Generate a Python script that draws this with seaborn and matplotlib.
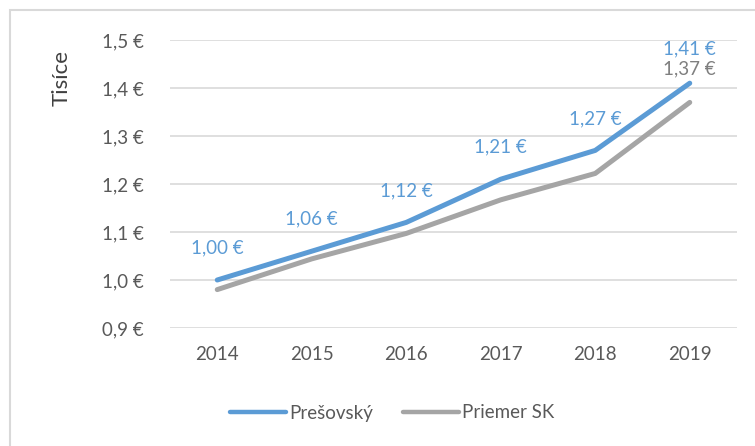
import matplotlib
matplotlib.use("Agg")
import matplotlib.pyplot as plt
import seaborn as sns
import pandas as pd
from matplotlib.patches import Rectangle
from matplotlib.lines import Line2D

years = ["2014", "2015", "2016", "2017", "2018", "2019"]
presovsky = [1.00, 1.06, 1.12, 1.21, 1.27, 1.41]
priemer_sk = [0.98, 1.044, 1.097, 1.167, 1.222, 1.37]
series_names = ["Prešovský", "Priemer SK"]
yticks = [0.9, 1.0, 1.1, 1.2, 1.3, 1.4, 1.5]

df = pd.DataFrame({
    "rok": years * 2,
    "hodnota": presovsky + priemer_sk,
    "séria": [series_names[0]] * len(years) + [series_names[1]] * len(years),
})

sns.set_theme(style="white")
plt.rcParams["font.family"] = ["Lato", "DejaVu Sans"]

blue = "#5B9BD5"
gray = "#A5A5A5"
txt = "#595959"
fs = 13.5

fig = plt.figure(figsize=(7.55, 4.46), dpi=100)
ax = fig.add_axes([170/755, 1-328/446, (737-170)/755, (328-40)/446])

sns.lineplot(data=df, x="rok", y="hodnota", hue="séria", palette=[blue, gray],
             linewidth=3.6, ax=ax, legend=False, sort=False)
for l in ax.lines:
    l.set_solid_capstyle("round")
    l.set_solid_joinstyle("round")

ax.set_xlim(-0.5, len(years) - 0.5)
ax.set_ylim(0.9, 1.5)
ax.set_yticks(yticks)
ax.set_yticklabels([f"{v:.1f} €".replace(".", ",") for v in yticks])
ax.grid(axis="y", color="#D9D9D9", linewidth=1.2)
ax.set_axisbelow(True)
for s in ax.spines.values():
    s.set_visible(False)
ax.tick_params(axis="both", length=0, labelsize=fs, labelcolor=txt)
ax.tick_params(axis="y", pad=19)
ax.tick_params(axis="x", pad=13)
ax.set_xlabel("")
ax.set_ylabel("")

for i, v in enumerate(presovsky):
    off = 34 if i == len(years) - 1 else 32
    ax.annotate(f"{v:.2f} €".replace(".", ","), (i, v), xytext=(0, off),
                textcoords="offset pixels", ha="center", va="center",
                color=blue, fontsize=fs)
ax.annotate(f"{priemer_sk[-1]:.2f} €".replace(".", ","), (len(years) - 1, priemer_sk[-1]),
            xytext=(0, 34), textcoords="offset pixels", ha="center", va="center",
            color="#7F7F7F", fontsize=fs)

fig.text(62/755, 1-78/446, "Tisíce", rotation=90, ha="center", va="center",
         fontsize=16, color="#404040")

handles = [Line2D([], [], color=blue, lw=3.2, solid_capstyle="round"),
           Line2D([], [], color=gray, lw=3.2, solid_capstyle="round")]
fig.legend(handles, series_names, loc="center", bbox_to_anchor=(392/755, 1-413/446),
           ncol=2, frameon=False, handlelength=3.0, handletextpad=0.15,
           columnspacing=1.6, fontsize=fs, labelcolor=txt)

fig.patches.append(Rectangle((10/755, -0.1), 1.0, 1-10/446 + 0.1, transform=fig.transFigure,
                             fill=False, edgecolor="#D9D9D9", linewidth=1.5))

fig.savefig("out.png", dpi=100)
